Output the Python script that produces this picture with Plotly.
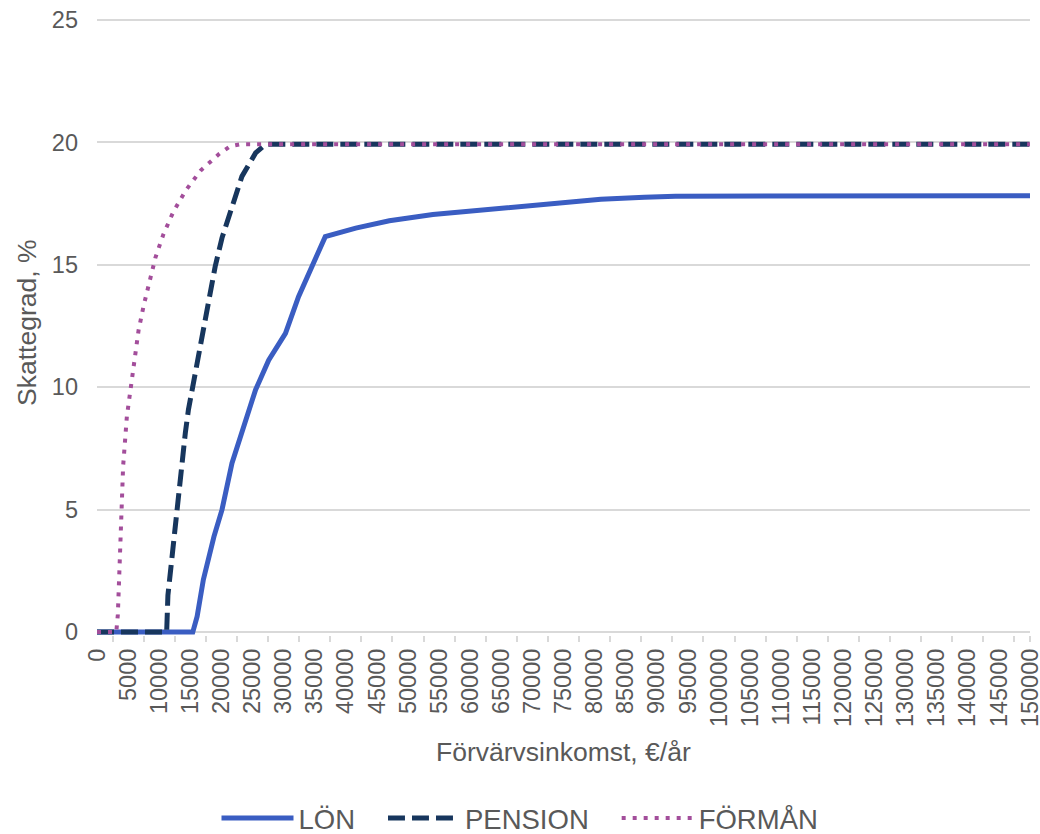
import plotly.graph_objects as go

# Data (income €/year, tax rate %)
lon_x = [0, 15400, 16100, 17100, 18800, 20100, 21700, 23600, 25500, 27600, 29800, 30300,
         32400, 34300, 36700, 41600, 47000, 54000, 65000, 75000, 81000, 88000, 93000, 150000]
lon_y = [0, 0, 0.64, 2.14, 3.9, 5.0, 6.9, 8.4, 9.9, 11.1, 12.07, 12.2,
         13.7, 14.8, 16.15, 16.5, 16.8, 17.05, 17.3, 17.55, 17.68, 17.76, 17.8, 17.82]

pension_x = [0, 11200, 11400, 12300, 12850, 13400, 14200, 14700, 15500, 16300, 17100, 17950,
             19000, 20100, 21700, 23300, 25500, 27100, 150000]
pension_y = [0, 0, 1.5, 3.64, 5.27, 6.63, 8.13, 9.08, 10.17, 11.4, 12.62, 13.57,
             14.93, 16.1, 17.39, 18.61, 19.57, 19.92, 19.92]

forman_x = [0, 3100, 3350, 3570, 3900, 4200, 4800, 5300, 5770, 6680, 7500, 8400, 9400,
            10700, 12300, 14300, 16700, 19700, 21400, 23000, 150000]
forman_y = [0, 0, 0.71, 2.2, 4.72, 6.77, 8.8, 9.8, 10.8, 12.32, 13.33, 14.32, 15.3,
            16.26, 17.18, 18.05, 18.86, 19.54, 19.84, 19.92, 19.92]

series_names = ["LÖN", "PENSION", "FÖRMÅN"]
x_ticks = list(range(0, 150001, 5000))
x_ticktext = [str(v) for v in x_ticks]
x_minor = [v + 2500 for v in x_ticks[:-1]] + [150000]
y_ticks = [0, 5, 10, 15, 20, 25]
x_title = "Förvärvsinkomst, €/år"
y_title = "Skattegrad, %"

FONT = "Liberation Sans, Arial, sans-serif"
GRAY = "#595959"
GRID = "#d9d9d9"
PAD = "\u00a0" * 3

W, H = 1040, 834
L, R, T, B = 97, 10, 17, 199
plot_w = W - L - R
plot_h = H - T - B

fig = go.Figure()
fig.add_trace(go.Scatter(x=lon_x, y=lon_y, name=series_names[0] + PAD, mode="lines",
                         line=dict(color="#3A5DC2", width=5)))
fig.add_trace(go.Scatter(x=pension_x, y=pension_y, name=series_names[1] + PAD, mode="lines",
                         line=dict(color="#17365D", width=5, dash="17px,7px")))
fig.add_trace(go.Scatter(x=forman_x, y=forman_y, name=series_names[2], mode="lines",
                         line=dict(color="#A34E9B", width=4, dash="4px,7px")))

fig.update_layout(
    width=W, height=H,
    margin=dict(l=L, r=R, t=T, b=B, autoexpand=False),
    paper_bgcolor="white", plot_bgcolor="white",
    font=dict(family=FONT, color=GRAY),
    legend=dict(orientation="h", x=(520 - L) / plot_w, xanchor="center",
                y=-(818 - (H - B)) / plot_h, yanchor="middle",
                font=dict(size=27.5, color=GRAY), itemwidth=72,
                traceorder="normal"),
    xaxis=dict(
        range=[0, 150000], automargin=False,
        tickmode="array", tickvals=x_ticks, ticktext=x_ticktext,
        tickangle=-90, tickfont=dict(size=23.5, color=GRAY),
        ticklabeloverflow="allow", ticklabelstandoff=8,
        ticks="", showgrid=False, zeroline=False, showline=False,
        minor=dict(tickmode="array", tickvals=x_minor, ticks="outside",
                   ticklen=6, tickcolor=GRID, tickwidth=1.5, showgrid=False),
    ),
    yaxis=dict(
        range=[-0.12, 25.12], automargin=False,
        tickmode="array", tickvals=y_ticks,
        tickfont=dict(size=23.5, color=GRAY), ticklabelstandoff=18,
        showgrid=True, gridcolor=GRID, gridwidth=1.5,
        zeroline=False, showline=False, ticks="",
    ),
    annotations=[
        dict(text=x_title, xref="paper", yref="paper", x=0.5,
             y=-(752 - (H - B)) / plot_h,
             xanchor="center", yanchor="middle", showarrow=False,
             font=dict(size=26.5, color=GRAY)),
        dict(text=y_title, xref="paper", yref="paper", x=(27 - L) / plot_w, y=0.505,
             xanchor="center", yanchor="middle", showarrow=False, textangle=-90,
             font=dict(size=26.5, color=GRAY)),
    ],
)

fig.write_html("out.html", config={"displayModeBar": False},
               post_script="document.body.style.margin='0';document.body.style.overflow='hidden';")
